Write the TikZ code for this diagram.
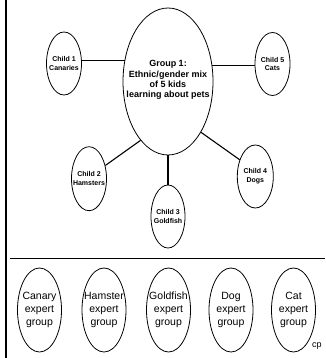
\documentclass[tikz,border=0pt]{standalone}
\usepackage{fontspec}
\setmainfont{Liberation Sans}
\usetikzlibrary{shapes.geometric}
\begin{document}
\begin{tikzpicture}[x=1pt,y=-1pt,
  oval/.style={draw, ellipse, inner sep=0pt, line width=0.8pt},
  child/.style={oval, minimum width=35pt, minimum height=63pt},
  expert/.style={oval, minimum width=44pt, minimum height=84pt},
  ctext/.style={align=center, font=\bfseries\fontsize{7}{8.7}\selectfont, inner sep=0pt},
  etext/.style={align=center, font=\fontsize{10.5}{13}\selectfont, inner sep=0pt},
  link/.style={line width=1.1pt}]
\useasboundingbox (0,0) rectangle (325,358);
% frame lines
\coordinate (vt) at (6,0);
\coordinate (vb) at (6,358);
\draw[line width=2.2pt] (vt) -- (vb);
\coordinate (hl) at (10,258.5);
\coordinate (hr) at (325,258.5);
\draw[line width=1.6pt] (hl) -- (hr);
% central group
\node[oval, minimum width=90pt, minimum height=147pt] (big) at (168,81.5) {};
\node[align=center, font=\bfseries\fontsize{9}{10.3}\selectfont, inner sep=0pt] (bigt) at (168,80)
  {Group 1:\\Ethnic/gender mix\\of 5 kids\\learning about pets};
% children
\node[child] (c1) at (64,63.5) {};
\node[ctext] (c1t) at (c1) {Child 1\\Canaries};
\node[child] (c5) at (272.5,64) {};
\node[ctext] (c5t) at (c5) {Child 5\\Cats};
\node[child, minimum width=35pt, minimum height=64pt] (c2) at (89,178.7) {};
\node[ctext] (c2t) at (c2) {Child 2\\Hamsters};
\node[child, minimum width=34pt, minimum height=63pt] (c3) at (168,216.5) {};
\node[ctext] (c3t) at (c3) {Child 3\\Goldfish};
\node[child, minimum width=36pt, minimum height=63pt] (c4) at (255.3,176.5) {};
\node[ctext] (c4t) at (c4) {Child 4\\Dogs};
% connectors
\draw[link] (c1.east |- big.154) -- (big.154);
\draw[link] (big.20) -- (big.20 -| c5.west);
\draw[link] (c2.39) -- (big.245);
\draw[link] (big.south) -- (c3.north);
\draw[link] (big.303) -- (c4.133);
% expert groups
\node[expert] (e1) at (39.5,310) {};
\node[etext] (e1t) at (e1) {Canary\\expert\\group};
\node[expert] (e2) at (104,310) {};
\node[etext] (e2t) at (e2) {Hamster\\expert\\group};
\node[expert] (e3) at (168.5,310) {};
\node[etext] (e3t) at (e3) {Goldfish\\expert\\group};
\node[expert] (e4) at (231,310) {};
\node[etext] (e4t) at (e4) {Dog\\expert\\group};
\node[expert] (e5) at (293.5,310) {};
\node[etext] (e5t) at (e5) {Cat\\expert\\group};
\node[anchor=base west, inner sep=0pt, font=\fontsize{9}{10}\selectfont] (cp) at (312,347) {cp};
\end{tikzpicture}
\end{document}
